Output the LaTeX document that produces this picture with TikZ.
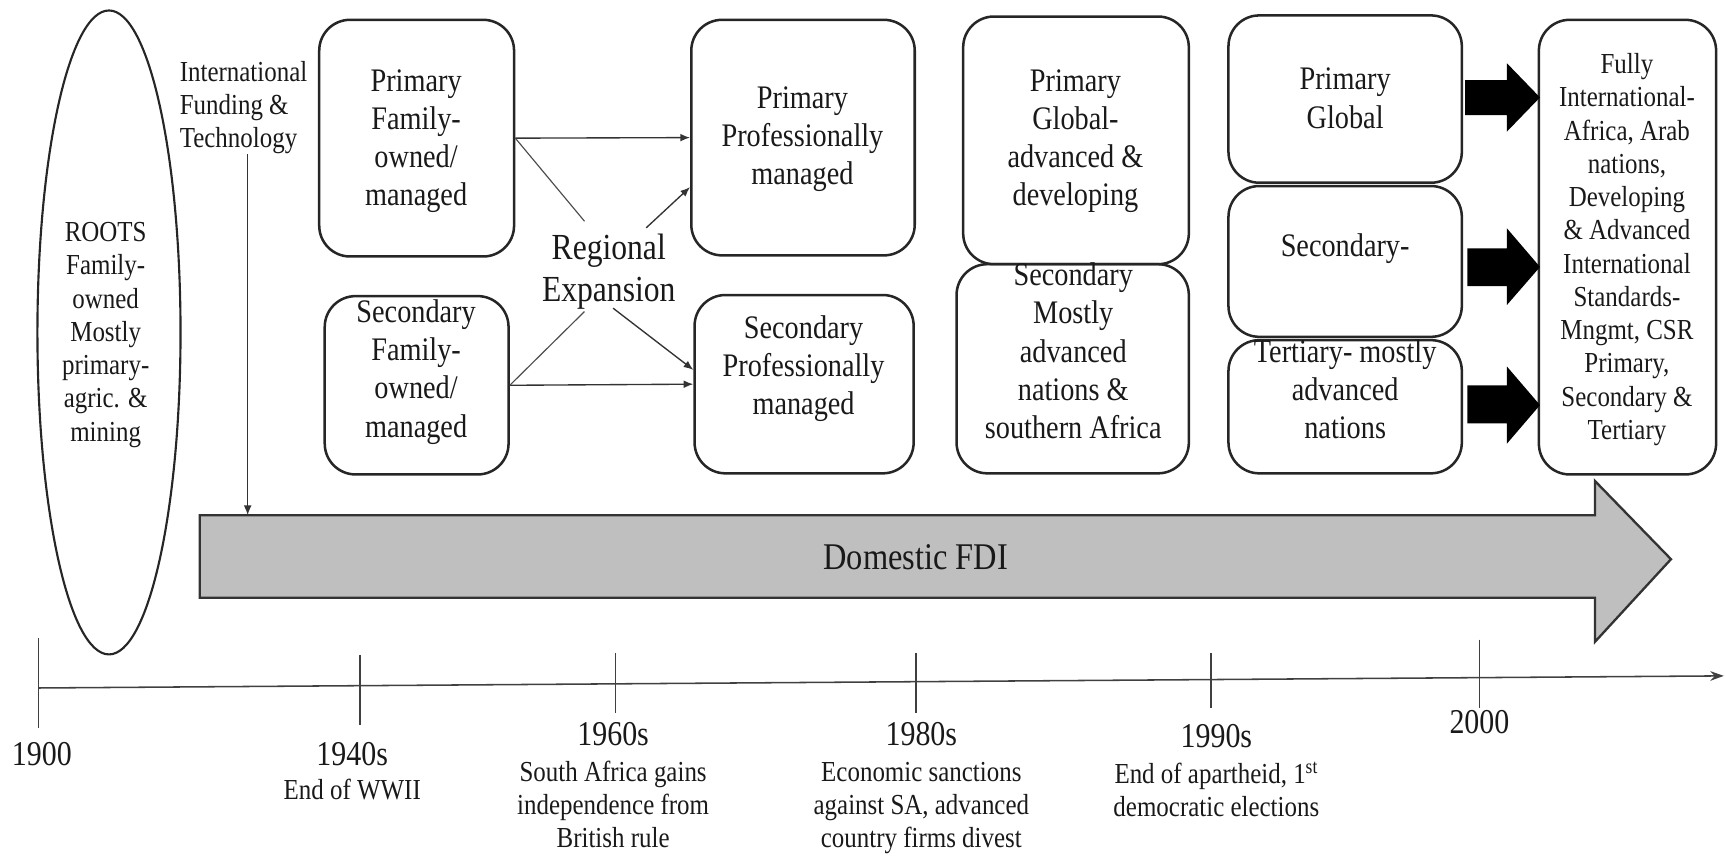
\documentclass[tikz,border=0pt]{standalone}
\usepackage{fontspec}
\setmainfont{Liberation Serif}
\newfontfamily\tnr{Liberation Serif}
\usetikzlibrary{shapes.geometric,arrows.meta}
\def\pxu{0.02cm}
\newcommand\tx[1]{\scalebox{0.86}[1]{\begin{tabular}{@{}c@{}}#1\end{tabular}}}
\newcommand\txl[1]{\scalebox{0.86}[1]{\begin{tabular}{@{}l@{}}#1\end{tabular}}}
\begin{document}
\begin{tikzpicture}[x=0.02cm,y=-0.02cm,
  box/.style={draw=black!85, line width=1.3pt, rounded corners=0.56cm, inner sep=0pt},
  btxt/.style={font=\tnr\fontsize{17}{19.75}\selectfont, inner sep=0pt, text=black!90},
  stxt/.style={font=\tnr\fontsize{15}{17.2}\selectfont, inner sep=0pt, text=black!90},
  ytxt/.style={font=\tnr\fontsize{18}{20}\selectfont, inner sep=0pt, text=black!90},
  conn/.style={draw=black!80, line width=0.7pt, -{Latex[length=5pt,width=4pt]}},
  plain/.style={draw=black!70, line width=0.6pt},
  tl/.style={draw=black!75, line width=0.8pt},
  blk/.style={fill=black}
]
\useasboundingbox (0,0) rectangle (1568,778);

% roots ellipse
\node[draw=black!85, line width=1.1pt, ellipse, inner sep=0pt,
      minimum width=130*\pxu, minimum height=585*\pxu] (roots) at (99,302) {};
\node[stxt] (rootst) at (96,304) {\tx{ROOTS\\Family-\\owned\\Mostly\\primary-\\agric. \&\\mining}};

% international funding
\node[stxt, anchor=west] (intl) at (163,98) {\txl{International\\Funding \&\\Technology}};

% boxes
\node[box, minimum width=177*\pxu, minimum height=215*\pxu] (b1) at (378.5,125.5) {};
\node[btxt] (b1t) at (378,128) {\tx{Primary\\Family-\\owned/\\managed}};
\node[box, minimum width=167*\pxu, minimum height=162*\pxu] (b2) at (378.5,350) {};
\node[btxt] (b2t) at (378,338) {\tx{Secondary\\Family-\\owned/\\managed}};
\node[box, minimum width=203*\pxu, minimum height=214*\pxu] (b3) at (729.5,125) {};
\node[btxt] (b3t) at (729,126) {\tx{Primary\\Professionally\\managed}};
\node[box, minimum width=199*\pxu, minimum height=162*\pxu] (b4) at (730.5,349) {};
\node[btxt] (b4t) at (730,335) {\tx{Secondary\\Professionally\\managed}};
\node[box, minimum width=205*\pxu, minimum height=225*\pxu] (b5) at (977.5,127.5) {};
\node[btxt] (b5t) at (977,128) {\tx{Primary\\Global-\\advanced \&\\developing}};
\node[box, minimum width=211*\pxu, minimum height=190*\pxu] (b6) at (974.5,335) {};
\node[btxt] (b6t) at (975,322) {\tx{Secondary\\Mostly\\advanced\\nations \&\\southern Africa}};
\node[box, minimum width=212*\pxu, minimum height=152*\pxu] (b7) at (1222,90) {};
\node[btxt] (b7t) at (1222,92) {\tx{Primary\\Global}};
\node[box, minimum width=212*\pxu, minimum height=137*\pxu] (b8) at (1222,237.5) {};
\node[btxt] (b8t) at (1222,226) {\tx{Secondary-}};
\node[box, minimum width=212*\pxu, minimum height=121*\pxu] (b9) at (1222,369.5) {};
\node[btxt] (b9t) at (1222,357) {\tx{Tertiary- mostly\\advanced\\nations}};
\node[box, minimum width=161*\pxu, minimum height=413*\pxu] (b10) at (1478.5,224.5) {};
\node[stxt] (b10t) at (1478,227) {\tx{Fully\\International-\\Africa, Arab\\nations,\\Developing\\\& Advanced\\International\\Standards-\\Mngmt, CSR\\Primary,\\Secondary \&\\Tertiary}};

% regional expansion
\node[font=\tnr\fontsize{19}{22}\selectfont, inner sep=0pt, text=black!90] (reg) at (553,247) {\tx{Regional\\Expansion}};
\coordinate (r1) at (531,201);
\coordinate (r2) at (587,207);
\coordinate (r3) at (531,283);
\coordinate (r4) at (557,280);
\draw[conn] (b1.east) -- (b3.west);
\draw[conn] (b2.east) -- (b4.west);
\draw[plain] (b1.east) -- (r1);
\draw[conn] (r2) -- ([yshift=-0.9cm]b3.west);
\draw[plain] (b2.east) -- (r3);
\draw[conn] (r4) -- ([yshift=0.26cm]b4.west);

% domestic FDI arrow
\draw[fill=black!25, draw=black!80, line width=1.2pt]
  (181.5,468) coordinate (fdiA) -- (1449,468) -- (1449,437) -- (1518,508) coordinate (fditip)
  -- (1449,583) -- (1449,543) -- (181.5,543) -- cycle;
\node[font=\tnr\fontsize{19.5}{22}\selectfont, inner sep=0pt, text=black!90] (fdi) at (832,510) {\tx{Domestic FDI}};
\coordinate (ia) at (225,140);
\coordinate (ib) at (225,468);
\draw[conn] (ia) -- (ib);

% block arrows
\fill[blk] (1331,72.7) -- (1369,72.7) -- (1369,57.5) -- (1399,88.5) -- (1369,119.5) -- (1369,104.5) -- (1331,104.5) -- cycle;
\fill[blk] (1333,225.6) -- (1369,225.6) -- (1369,207.5) -- (1399,242.5) -- (1369,277) -- (1369,260) -- (1333,260) -- cycle;
\fill[blk] (1333,350) -- (1369,350) -- (1369,333) -- (1399,368) -- (1369,403) -- (1369,384.6) -- (1333,384.6) -- cycle;

% timeline
\coordinate (t0) at (35,625);
\coordinate (tend) at (1566,614);
\draw[tl, -{Stealth[length=7pt,width=5pt]}] (t0) -- (tend);
\draw[tl] (35,580) -- (35,661);
\draw[tl] (327,595) -- (327,659);
\draw[tl] (559,593) -- (559,648);
\draw[tl] (832,593) -- (832,648);
\draw[tl] (1100,593) -- (1100,643);
\draw[tl] (1344,581) -- (1344,643);

\node[ytxt] (y1900) at (38,688) {\tx{1900}};
\node[ytxt] (y1940) at (320,688) {\tx{1940s}};
\node[stxt] (d1940) at (320,720) {\tx{End of WWII}};
\node[ytxt] (y1960) at (557,670) {\tx{1960s}};
\node[stxt] (d1960) at (557,734) {\tx{South Africa gains\\independence from\\British rule}};
\node[ytxt] (y1980) at (837,670) {\tx{1980s}};
\node[stxt] (d1980) at (837,734) {\tx{Economic sanctions\\against SA, advanced\\country firms divest}};
\node[ytxt] (y1990) at (1105,672) {\tx{1990s}};
\node[stxt] (d1990) at (1105,721) {\tx{End of apartheid, 1\textsuperscript{st}\\democratic elections}};
\node[ytxt] (y2000) at (1344,659) {\tx{2000}};
\end{tikzpicture}
\end{document}
